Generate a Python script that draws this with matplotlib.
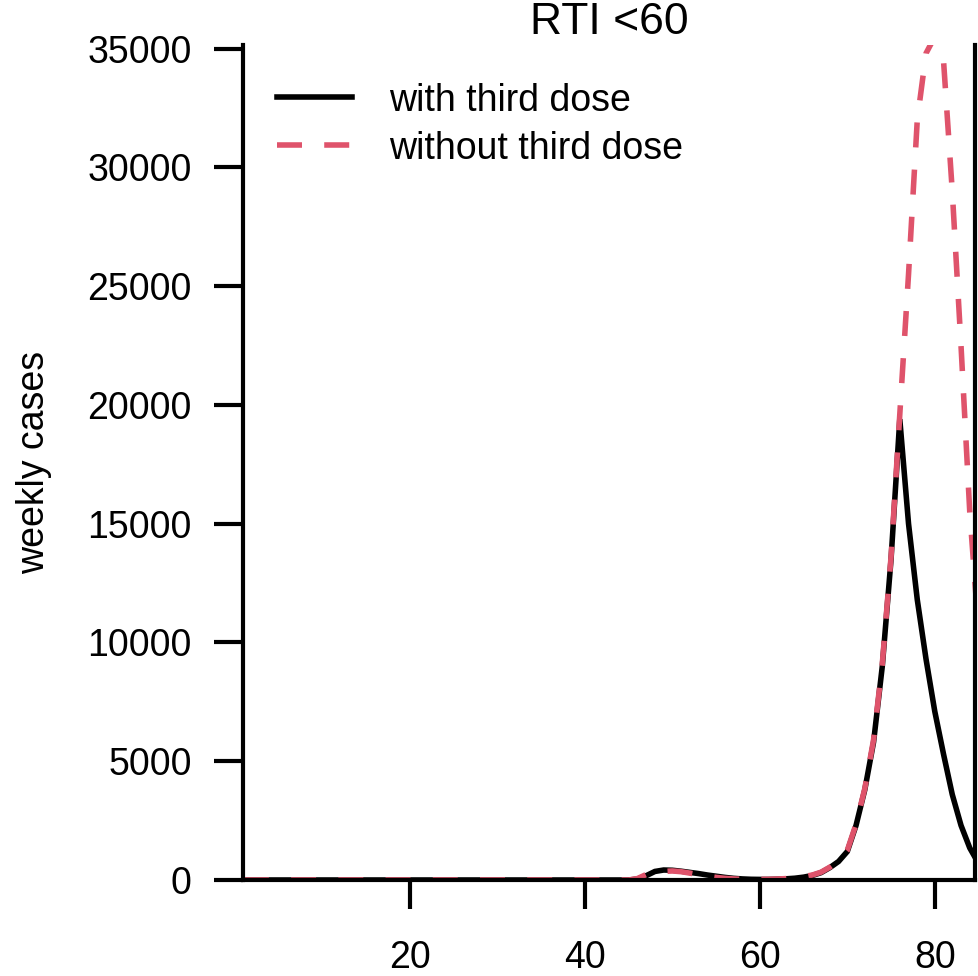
import matplotlib
matplotlib.use('Agg')
import matplotlib.pyplot as plt

plt.rcParams['font.family'] = ['Liberation Sans', 'DejaVu Sans']

# weekly cases, weeks 1..85
weeks = list(range(1, 86))

with_third = [0, 0, 0, 0, 0, 0, 0, 0, 0, 0,
              0, 0, 0, 0, 0, 0, 0, 0, 0, 0,
              0, 0, 0, 0, 0, 0, 0, 0, 0, 0,
              0, 0, 0, 0, 0, 0, 0, 0, 0, 0,
              0, 0, 0, 0, 0, 40, 180, 360, 420, 410,
              370, 320, 270, 210, 160, 110, 70, 45, 30, 25,
              25, 35, 50, 75, 120, 190, 310, 520, 780, 1200,
              2300, 3800, 5800, 9000, 13500, 19400, 15000, 11800, 9300, 7100,
              5300, 3600, 2300, 1350, 700]

without_third = [0, 0, 0, 0, 0, 0, 0, 0, 0, 0,
                 0, 0, 0, 0, 0, 0, 0, 0, 0, 0,
                 0, 0, 0, 0, 0, 0, 0, 0, 0, 0,
                 0, 0, 0, 0, 0, 0, 0, 0, 0, 0,
                 0, 0, 0, 0, 0, 60, 230, 330, 360, 380,
                 350, 290, 220, 160, 110, 70, 45, 30, 25, 25,
                 30, 40, 60, 90, 140, 210, 330, 540, 800, 1250,
                 2350, 3850, 5900, 9100, 13600, 19600, 25500, 32000, 34800, 35500,
                 34500, 29000, 22500, 15500, 10500]

xticks = [20, 40, 60, 80]
yticks = [0, 5000, 10000, 15000, 20000, 25000, 30000, 35000]

RED = '#DF536B'
FS = 27

fig = plt.figure(figsize=(9.79, 9.76), dpi=100)
ax = fig.add_axes([243/979, 96/976, 732/979, 835/976])

ax.plot(weeks, with_third, color='black', lw=4, solid_joinstyle='miter',
        label='with third dose')
ax.plot(weeks, without_third, color=RED, lw=4, dashes=(4.5, 4),
        label='without third dose')

ax.set_xlim(0.9, 84.6)
ax.set_ylim(0, 35150)
ax.set_xticks(xticks)
ax.set_yticks(yticks)
ax.set_yticklabels([str(v) for v in yticks])

for s in ['left', 'bottom', 'right']:
    ax.spines[s].set_linewidth(3)
ax.spines['top'].set_visible(False)

ax.tick_params(axis='both', labelsize=FS, width=3, length=21, direction='out')
ax.tick_params(axis='x', pad=22)
ax.tick_params(axis='y', pad=16)

ax.set_title('RTI <60', fontsize=32, pad=8)
ax.set_ylabel('weekly cases', fontsize=FS)
ax.yaxis.set_label_coords(-0.261, 0.5)

ax.legend(loc='upper left', bbox_to_anchor=(0.046, 0.955), frameon=False,
          fontsize=FS, handlelength=2.0, handletextpad=1.0,
          borderpad=0, borderaxespad=0, labelspacing=0.32)

plt.savefig('out.png', dpi=100, facecolor='white')
